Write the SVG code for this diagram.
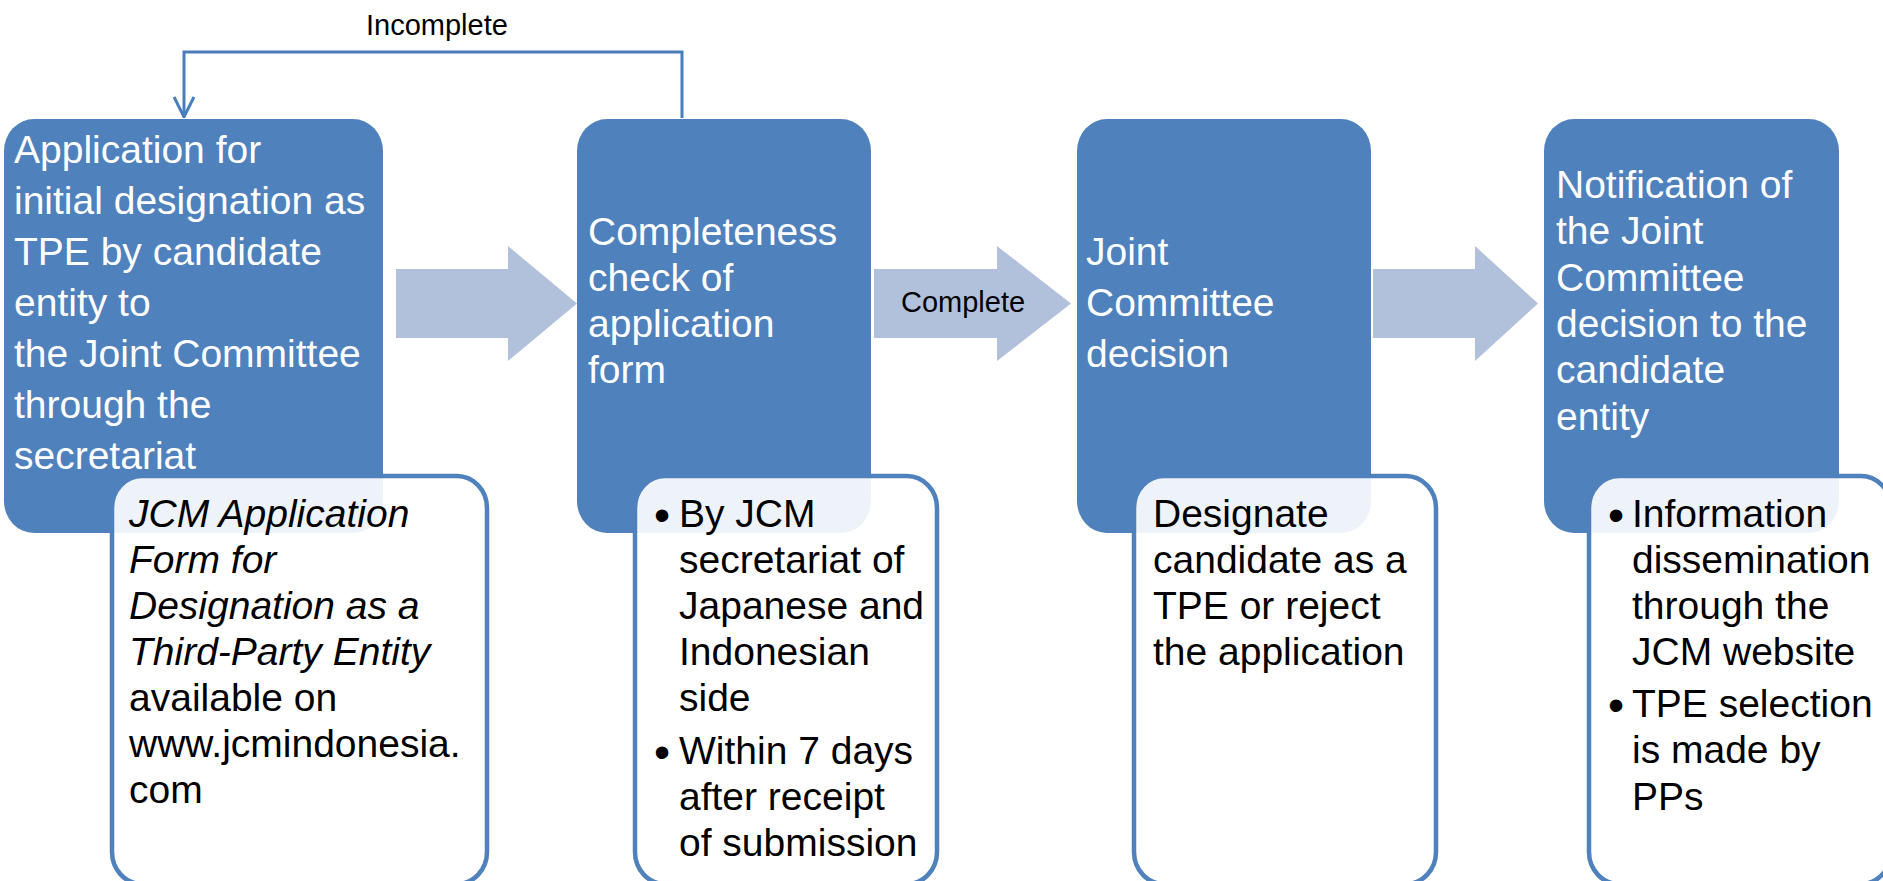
<svg xmlns="http://www.w3.org/2000/svg" width="1883" height="881" viewBox="0 0 1883 881">
<style>
.bg{fill:#ffffff}
.blue{fill:#4F81BD}
.card{fill:#ffffff;fill-opacity:0.9;stroke:#4F81BD;stroke-width:4.5}
.flow{fill:#B2C1DB}
.wt{font-family:"Liberation Sans",Arial,sans-serif;font-size:39px;fill:#ffffff}
.bt{font-family:"Liberation Sans",Arial,sans-serif;font-size:39px;fill:#000000}
.it{font-style:italic}
.bul{font-size:46px}
.lbl{font-family:"Liberation Sans",Arial,sans-serif;font-size:29px;fill:#000000}
.conn{fill:none;stroke:#4A7EBB;stroke-width:3}
</style>
<defs>
<marker id="vhead" viewBox="0 0 22 22" markerWidth="22" markerHeight="22" markerUnits="userSpaceOnUse" refX="21" refY="11" orient="auto">
<path d="M1,1 L21,11 L1,21" fill="none" stroke="#4A7EBB" stroke-width="3"/>
</marker>
</defs>
<rect class="bg" x="0" y="0" width="1883" height="881"/>

<g id="node1">
<rect class="blue" x="4" y="119" width="379" height="414" rx="30" ry="32"/>
<text class="wt">
<tspan x="14" y="163">Application for</tspan>
<tspan x="14" y="214">initial designation as</tspan>
<tspan x="14" y="265">TPE by candidate</tspan>
<tspan x="14" y="316">entity to</tspan>
<tspan x="14" y="367">the Joint Committee</tspan>
<tspan x="14" y="418">through the</tspan>
<tspan x="14" y="469">secretariat</tspan>
</text>
</g>

<g id="node2">
<rect class="blue" x="577" y="119" width="294" height="414" rx="30" ry="32"/>
<text class="wt">
<tspan x="588" y="245">Completeness</tspan>
<tspan x="588" y="291">check of</tspan>
<tspan x="588" y="337">application</tspan>
<tspan x="588" y="383">form</tspan>
</text>
</g>

<g id="node3">
<rect class="blue" x="1077" y="119" width="294" height="414" rx="30" ry="32"/>
<text class="wt">
<tspan x="1086" y="265">Joint</tspan>
<tspan x="1086" y="316">Committee</tspan>
<tspan x="1086" y="367">decision</tspan>
</text>
</g>

<g id="node4">
<rect class="blue" x="1544" y="119" width="295" height="414" rx="30" ry="32"/>
<text class="wt">
<tspan x="1556" y="198">Notification of</tspan>
<tspan x="1556" y="244">the Joint</tspan>
<tspan x="1556" y="291">Committee</tspan>
<tspan x="1556" y="337">decision to the</tspan>
<tspan x="1556" y="383">candidate</tspan>
<tspan x="1556" y="430">entity</tspan>
</text>
</g>

<g id="detail1">
<rect class="card" x="112" y="476" width="375" height="408" rx="30" ry="32"/>
<text class="bt">
<tspan class="it" x="129" y="527">JCM Application</tspan>
<tspan class="it" x="129" y="573">Form for</tspan>
<tspan class="it" x="129" y="619">Designation as a</tspan>
<tspan class="it" x="129" y="665">Third-Party Entity</tspan>
<tspan x="129" y="711">available on</tspan>
<tspan x="129" y="757">www.jcmindonesia.</tspan>
<tspan x="129" y="803">com</tspan>
</text>
</g>

<g id="detail2">
<rect class="card" x="635" y="476" width="302" height="408" rx="30" ry="32"/>
<text class="bt">
<tspan class="bul" x="654" y="531">•</tspan>
<tspan x="679" y="527">By JCM</tspan>
<tspan x="679" y="573">secretariat of</tspan>
<tspan x="679" y="619">Japanese and</tspan>
<tspan x="679" y="665">Indonesian</tspan>
<tspan x="679" y="711">side</tspan>
<tspan class="bul" x="654" y="768">•</tspan>
<tspan x="679" y="764">Within 7 days</tspan>
<tspan x="679" y="810">after receipt</tspan>
<tspan x="679" y="856">of submission</tspan>
</text>
</g>

<g id="detail3">
<rect class="card" x="1134" y="476" width="302" height="408" rx="30" ry="32"/>
<text class="bt">
<tspan x="1153" y="527">Designate</tspan>
<tspan x="1153" y="573">candidate as a</tspan>
<tspan x="1153" y="619">TPE or reject</tspan>
<tspan x="1153" y="665">the application</tspan>
</text>
</g>

<g id="detail4">
<rect class="card" x="1589" y="476" width="302" height="408" rx="30" ry="32"/>
<text class="bt">
<tspan class="bul" x="1608" y="531">•</tspan>
<tspan x="1632" y="527">Information</tspan>
<tspan x="1632" y="573">dissemination</tspan>
<tspan x="1632" y="619">through the</tspan>
<tspan x="1632" y="665">JCM website</tspan>
<tspan class="bul" x="1608" y="721">•</tspan>
<tspan x="1632" y="717">TPE selection</tspan>
<tspan x="1632" y="763">is made by</tspan>
<tspan x="1632" y="810">PPs</tspan>
</text>
</g>

<g id="connectors">
<polygon class="flow" points="396,269 508,269 508,246 577,303.5 508,361 508,338 396,338"/>
<polygon class="flow" points="874,269 997,269 997,246 1071,303.5 997,361 997,338 874,338"/>
<polygon class="flow" points="1373,269 1475,269 1475,246 1538,303.5 1475,361 1475,338 1373,338"/>
<text class="lbl" x="901" y="312">Complete</text>
<path class="conn" d="M682,118 V52 H184 V117" marker-end="url(#vhead)"/>
<text class="lbl" x="366" y="35">Incomplete</text>
</g>
</svg>
